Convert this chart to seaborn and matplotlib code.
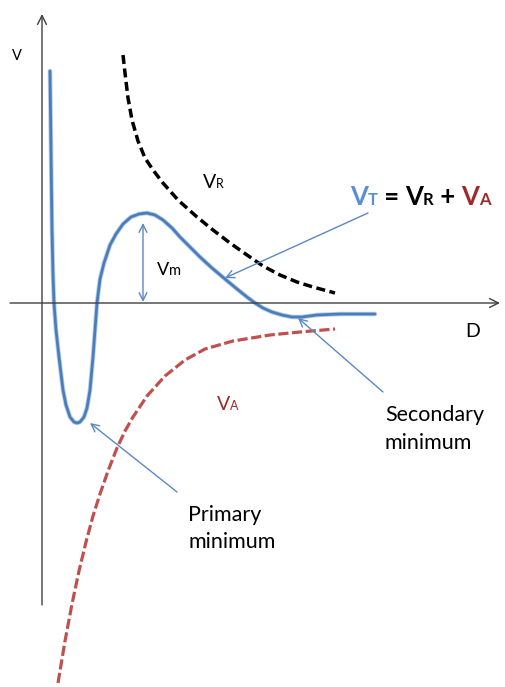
import matplotlib
matplotlib.use("Agg")
import matplotlib.pyplot as plt
import seaborn as sns
import pandas as pd
from matplotlib.transforms import offset_copy

# Interaction energy vs. separation distance (arbitrary units; D along x, V along y)
vt_d = [8, 9, 10, 11, 12, 14, 17, 21, 24, 28, 32, 35, 38, 42, 45, 48, 51, 53, 55,
        58, 62, 68, 74, 81, 89, 97, 105, 113, 121, 130, 138, 148, 158, 170, 183,
        195, 205, 213, 221, 230, 240, 250, 260, 275, 298, 333]
vt_v = [232, 153, 73, 28, 0, -27, -54, -87, -102, -114, -119, -120, -119, -114,
        -105, -87, -54, -27, 0, 24, 40, 58, 69, 79, 86, 89, 90, 88, 83, 75, 66,
        56, 46, 35, 24, 14, 6, 0, -5, -9, -12, -14, -14, -12, -11, -11]

vr_d = [81, 83, 86, 90, 96, 103, 111, 121, 136, 155, 171, 188, 205, 221, 238, 255, 271, 293]
vr_v = [248, 230, 205, 183, 162, 145, 133, 120, 103, 86, 73, 60, 48, 37, 28, 21, 16, 10]

va_d = [16, 23, 30, 37, 44, 51, 58, 66, 75, 83, 91, 105, 123, 143, 163, 191, 228, 258, 293]
va_v = [-380, -338, -301, -268, -239, -213, -191, -168, -145, -128, -114, -93, -73,
        -57, -46, -38, -32, -29, -26]

# Axis extents
d_axis = [-32, 458]
v_axis = [-302, 289]

# Energy barrier height marker
vm_d = 101
vm_v = [1, 80]

BLUE = "#4A7EBB"
BLUE_HALO = "#A8C2E4"
ARROW = "#5A88C4"
RED = "#C0504D"
DARK_RED = "#9E2A2B"
AXIS = "#3F3F3F"

sns.set_theme(style="white")
plt.rcParams["font.family"] = ["Lato", "DejaVu Sans"]

fig = plt.figure(figsize=(5.05, 6.87), dpi=100)
ax = fig.add_axes([0, 0, 1, 1])
ax.set_xlim(-42, 463)
ax.set_ylim(-384, 303)
ax.axis("off")

# Coordinate axes with open arrowheads
ax.annotate("", xy=(0, v_axis[1]), xytext=(0, v_axis[0]),
            arrowprops=dict(arrowstyle="->", color=AXIS, lw=1.0,
                            shrinkA=0, shrinkB=0, mutation_scale=16))
ax.annotate("", xy=(d_axis[1], 0), xytext=(d_axis[0], 0),
            arrowprops=dict(arrowstyle="->", color=AXIS, lw=1.0,
                            shrinkA=0, shrinkB=0, mutation_scale=16))

vt = pd.DataFrame({"D": vt_d, "V": vt_v})
vr = pd.DataFrame({"D": vr_d, "V": vr_v})
va = pd.DataFrame({"D": va_d, "V": va_v})

# Repulsive and attractive contributions
sns.lineplot(data=vr, x="D", y="V", ax=ax, sort=False, estimator=None,
             color="black", lw=2.5, linestyle=(0, (2.6, 1.3)))
sns.lineplot(data=va, x="D", y="V", ax=ax, sort=False, estimator=None,
             color=RED, lw=2.3, linestyle=(0, (3.2, 1.1)))

# Total interaction energy
sns.lineplot(data=vt, x="D", y="V", ax=ax, sort=False, estimator=None,
             color=BLUE_HALO, lw=3.3, alpha=0.8, solid_joinstyle="round")
sns.lineplot(data=vt, x="D", y="V", ax=ax, sort=False, estimator=None,
             color=BLUE, lw=2.0, solid_joinstyle="round")

# Barrier height double arrow
ax.annotate("", xy=(vm_d, vm_v[1]), xytext=(vm_d, vm_v[0]),
            arrowprops=dict(arrowstyle="<->", color=ARROW, lw=1.0,
                            shrinkA=0, shrinkB=0, mutation_scale=14))

# Pointer arrows
def pointer(tip, tail):
    ax.annotate("", xy=tip, xytext=tail,
                arrowprops=dict(arrowstyle="->", color=ARROW, lw=1.0,
                                shrinkA=0, shrinkB=0, mutation_scale=14))

pointer((183, 25), (326, 90))
pointer((256, -15), (341, -89))
pointer((48, -120), (135, -189))

renderer = fig.canvas.get_renderer()


def rich(x, y, parts):
    """Draw text pieces side by side on a shared baseline."""
    shift = 0.0
    for s, size, color, weight in parts:
        tr = offset_copy(ax.transData, fig=fig, x=shift, y=0, units="dots")
        t = ax.text(x, y, s, fontsize=size, color=color, fontweight=weight,
                    ha="left", va="baseline", transform=tr)
        shift += t.get_window_extent(renderer).width


ax.text(-30, 243, "V", fontsize=10.5, color="black", ha="left", va="baseline")
ax.text(423, -34, "D", fontsize=14, color="black", ha="left", va="baseline")

rich(161, 115, [("V", 14, "black", "normal"), ("R", 9, "black", "normal")])
rich(115, 28, [("V", 13, "black", "normal"), ("m", 10.5, "black", "normal")])
rich(175, -107, [("V", 14, DARK_RED, "normal"), ("A", 9, DARK_RED, "normal")])

rich(308, 98, [("V", 18.5, "#5B8FD3", "bold"), ("T", 12, "#5B8FD3", "bold"),
               (" = ", 18.5, "black", "bold"),
               ("V", 18.5, "black", "bold"), ("R", 12, "black", "bold"),
               (" + ", 18.5, "black", "bold"),
               ("V", 18.5, DARK_RED, "bold"), ("A", 12, DARK_RED, "bold")])

ax.text(343, -118, "Secondary", fontsize=15.5, color="black", ha="left", va="baseline")
ax.text(343, -146, "minimum", fontsize=15.5, color="black", ha="left", va="baseline")
ax.text(146, -218, "Primary", fontsize=15.5, color="black", ha="left", va="baseline")
ax.text(146, -245, "minimum", fontsize=15.5, color="black", ha="left", va="baseline")

fig.savefig("out.png", dpi=100)
